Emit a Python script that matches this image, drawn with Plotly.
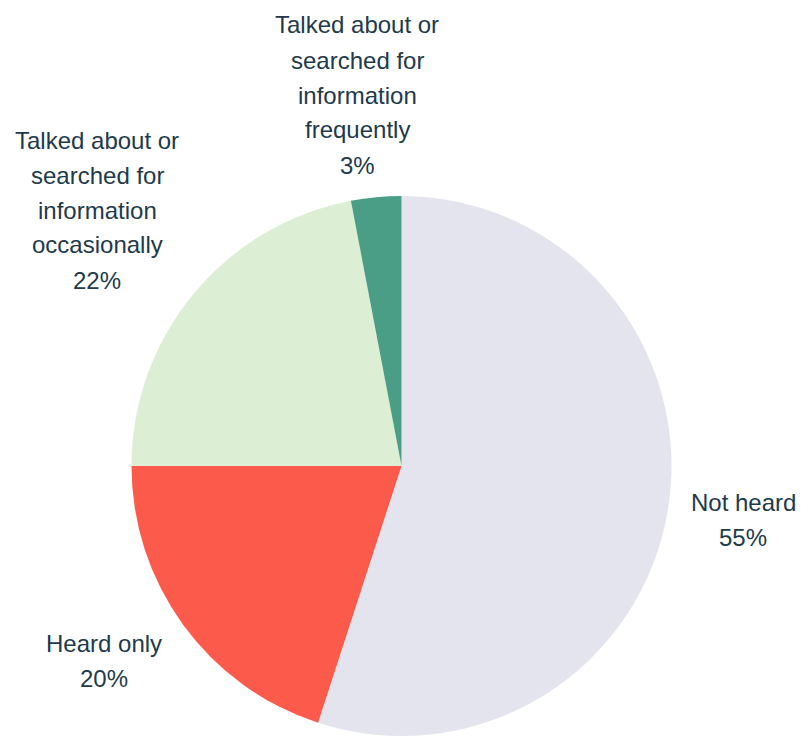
import plotly.graph_objects as go

labels = ["Not heard", "Heard only",
          "Talked about or searched for information occasionally",
          "Talked about or searched for information frequently"]
values = [55, 20, 22, 3]
colors = ["#e4e4ee", "#fc5b4b", "#dcefd5", "#4a9e86"]

label_lines = [
    ["Not heard", "55%"],
    ["Heard only", "20%"],
    ["Talked about or", "searched for", "information", "occasionally", "22%"],
    ["Talked about or", "searched for", "information", "frequently", "3%"],
]
# label block centres (pixel positions of first line)
label_pos = [(743, 502), (104, 643), (97, 140), (357, 25)]
LINE_STEP = 35

W, H = 801, 736

fig = go.Figure(go.Pie(
    labels=labels, values=values, sort=False, direction="clockwise",
    rotation=0, textinfo="none", hoverinfo="label+percent",
    marker=dict(colors=colors, line=dict(width=0)),
    domain=dict(x=[129.5 / W, 673.5 / W], y=[0, 1 - 196 / H]),
    showlegend=False,
))

annotations = []
for lines, (px, py) in zip(label_lines, label_pos):
    for i, t in enumerate(lines):
        annotations.append(dict(
            text=t, x=px / W, y=1 - (py + i * LINE_STEP) / H,
            xref="paper", yref="paper", xanchor="center", yanchor="middle",
            showarrow=False,
            font=dict(family="Liberation Sans, Arial, sans-serif", size=24, color="#223a4a"),
        ))

fig.update_layout(
    width=W, height=H, margin=dict(l=0, r=0, t=0, b=0),
    paper_bgcolor="white", plot_bgcolor="white",
    annotations=annotations,
)

fig.write_html("out.html")
